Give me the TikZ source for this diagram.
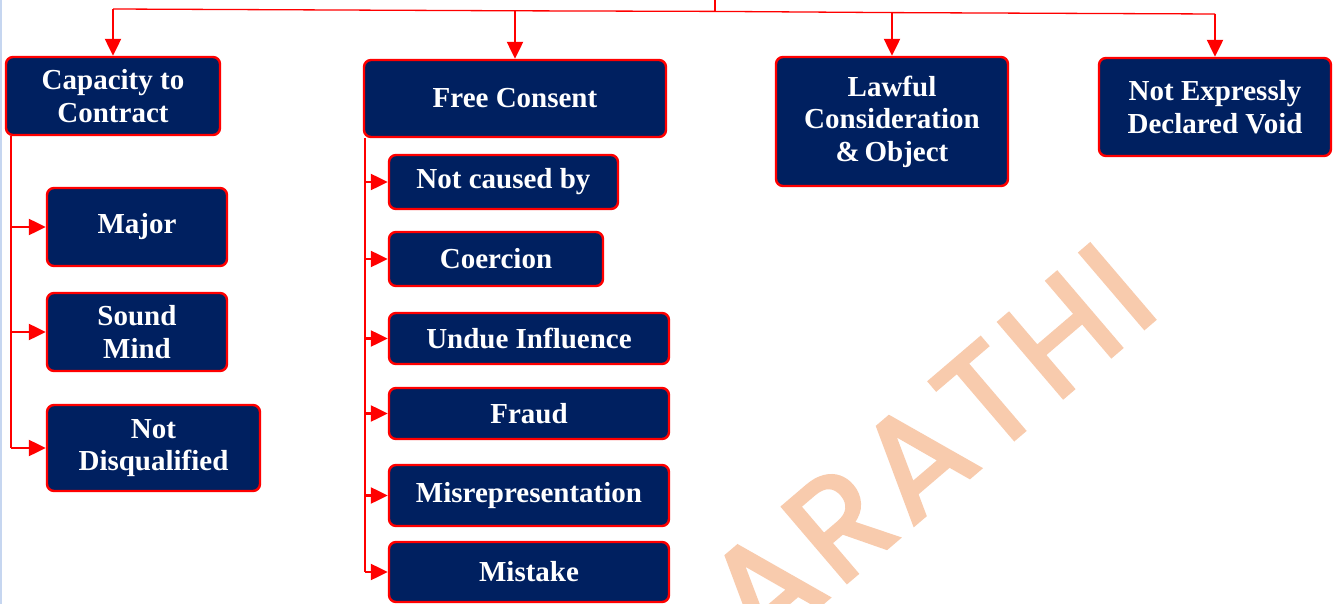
\documentclass[tikz,border=0pt]{standalone}
\usepackage{fontspec}
\setmainfont{Liberation Serif}
\newfontfamily\wmfont[LetterSpace=6,FakeBold=2.4]{Poppins}
\usetikzlibrary{arrows.meta,calc}
\definecolor{navy}{HTML}{002060}
\definecolor{peach}{HTML}{F8CBAD}
\definecolor{edgeblue}{HTML}{C6D6F0}
\tikzset{
  box/.style={draw=red, line width=2.4pt, fill=navy, rounded corners=7pt,
    text=white, font=\bfseries\fontsize{29}{32.5}\selectfont, align=center,
    inner sep=0pt},
  feed/.style={draw=red, line width=1.3pt},
  arr/.style={draw=red, line width=2.3pt, -{Triangle[width=16pt,length=17pt]}},
}
\begin{document}
\begin{tikzpicture}[x=1pt,y=-1pt]
\useasboundingbox (0,0) rectangle (1336,604);
\fill[white] (0,0) rectangle (1336,604);

% watermark
\begin{scope}
  \clip (0,0) rectangle (1336,604);
  \node[text=peach, rotate=40.5, font=\wmfont\fontsize{142}{142}\selectfont, inner sep=0pt]
    (wm) at (929,447) {ARATHI};
\end{scope}

% thin edge line on the left
\draw[edgeblue, line width=1.5pt] (0.8,0) -- (0.8,604);

% top row
\node[box, minimum width=214pt, minimum height=78pt] (cap) at (113,96) {Capacity to\\Contract};
\node[box, minimum width=302pt, minimum height=77pt] (free) at (515,98.5) {Free Consent};
\node[box, minimum width=232pt, minimum height=129pt] (lawful) at (892,121.5) {Lawful\\Consideration\\\&\,Object};
\node[box, minimum width=232pt, minimum height=98pt] (void) at (1215,107) {Not Expressly\\Declared Void};

% capacity branch
\node[box, minimum width=180pt, minimum height=78pt] (major) at (137,227) {Major};
\node[box, minimum width=180pt, minimum height=78pt] (sound) at (137,332) {Sound\\Mind};
\node[box, minimum width=213pt, minimum height=86pt] (notdis) at (153.5,448) {Not\\Disqualified};

% free consent branch
\node[box, minimum width=229pt, minimum height=54pt] (ncb) at (503.5,182) {Not caused by};
\node[box, minimum width=214pt, minimum height=54pt] (coer) at (496,259) {Coercion};
\node[box, minimum width=280pt, minimum height=51pt] (undue) at (529,338.5) {Undue Influence};
\node[box, minimum width=280pt, minimum height=51pt] (fraud) at (529,413.5) {Fraud};
\node[box, minimum width=280pt, minimum height=61pt] (misrep) at (529,495.5) {Misrepresentation};
\node[box, minimum width=280pt, minimum height=60pt] (mistake) at (529,572) {Mistake};

% top feed line
\coordinate (src) at (715,0);
\coordinate (j1) at (113,9);
\coordinate (j2) at (515,10.8);
\coordinate (hub) at (715,11.4);
\coordinate (j3) at (892,12.6);
\coordinate (j4) at (1215,14);
\draw[feed] (src) -- (hub);
\draw[feed] (j1) -- (j2) -- (hub) -- (j3) -- (j4);
\draw[arr] (j1) -- (cap.north);
\draw[arr] (j2) -- (free.north);
\draw[arr] (j3) -- (lawful.north);
\draw[arr] (j4) -- (void.north);

% left trunk
\coordinate (lt) at ($(cap.south west)+(6,0)$);
\draw[red, line width=2.3pt] (lt) -- (lt |- notdis.west);
\foreach \n in {major,sound,notdis}
  \draw[arr] (lt |- \n.west) -- (\n.west);

% middle trunk
\coordinate (mt) at ($(free.south west)+(2,0)$);
\draw[red, line width=2.3pt] (mt) -- (mt |- mistake.west);
\foreach \n in {ncb,coer,undue,fraud,misrep,mistake}
  \draw[arr] (mt |- \n.west) -- (\n.west);
\end{tikzpicture}
\end{document}
